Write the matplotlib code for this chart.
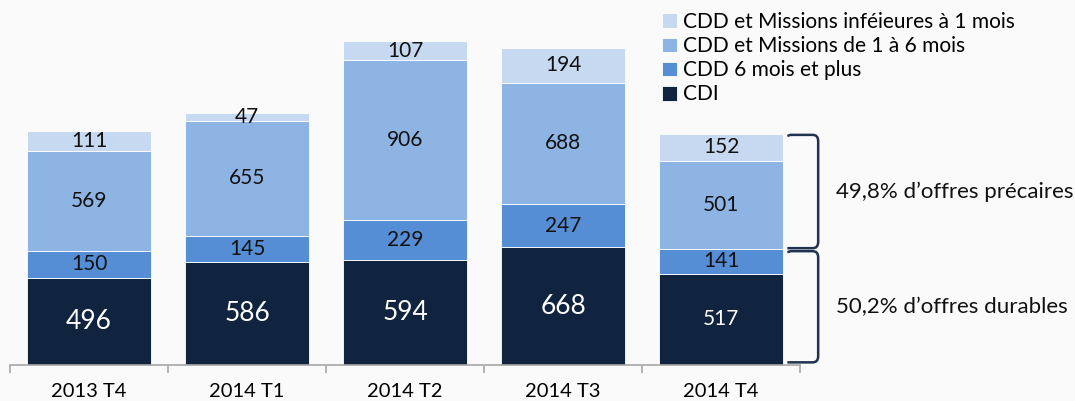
import matplotlib.pyplot as plt
import numpy as np
from matplotlib.path import Path
from matplotlib.patches import PathPatch

plt.rcParams['font.family'] = ['Lato', 'DejaVu Sans']

categories = ['2013 T4', '2014 T1', '2014 T2', '2014 T3', '2014 T4']
cdi = [496, 586, 594, 668, 517]
cdd_6plus = [150, 145, 229, 247, 141]
cdd_1to6 = [569, 655, 906, 688, 501]
cdd_under1 = [111, 47, 107, 194, 152]

series = [
    ('CDI', cdi, '#11243F', 'white'),
    ('CDD 6 mois et plus', cdd_6plus, '#558ED5', '#111111'),
    ('CDD et Missions de 1 à 6 mois', cdd_1to6, '#8EB4E3', '#111111'),
    ('CDD et Missions inféieures à 1 mois', cdd_under1, '#C6D9F1', '#111111'),
]

share_precaire = '49,8%'
share_durable = '50,2%'

bg = '#FAFAFA'
fig = plt.figure(figsize=(10.75, 4.01), dpi=100, facecolor=bg)
ax = fig.add_axes([10 / 1075, 36 / 401, 790 / 1075, 345 / 401])
ax.set_facecolor(bg)

x = np.arange(len(categories))
width = 0.785
bottom = np.zeros(len(categories))
handles = []
for name, vals, color, tcolor in series:
    vals = np.array(vals)
    rects = ax.bar(x, vals, width, bottom=bottom, color=color,
                   edgecolor='white', linewidth=0.6, label=name)
    handles.append(rects)
    for i, v in enumerate(vals):
        size = 15
        if name == 'CDI' and i < 4:
            size = 19
        ax.text(x[i], bottom[i] + v / 2, str(v), ha='center', va='center',
                color=tcolor, fontsize=size)
    bottom += vals

ax.set_xlim(-0.5, len(categories) - 0.5)
ax.set_ylim(0, 1958)
for s in ['top', 'right', 'left']:
    ax.spines[s].set_visible(False)
ax.spines['bottom'].set_color('#A6A6A6')
ax.spines['bottom'].set_linewidth(1.2)
ax.set_yticks([])
ax.set_xticks(x)
ax.set_xticklabels(categories, fontsize=14.5)
ax.tick_params(axis='x', which='major', length=0, pad=13)
ax.set_xticks(np.arange(len(categories) + 1) - 0.5, minor=True)
ax.tick_params(axis='x', which='minor', length=6, color='#A6A6A6', width=1.2)

# braces on the last bar
last = len(categories) - 1
x0 = last + 0.42
x1 = last + 0.615
r = 0.035
ry = 35


def brace(ytop, ybot):
    verts = [(x0, ytop - 6), (x0 + 0.02, ytop), (x1 - r, ytop),
             (x1, ytop), (x1, ytop - ry),
             (x1, ybot + ry),
             (x1, ybot), (x1 - r, ybot),
             (x0, ybot)]
    codes = [Path.MOVETO, Path.LINETO, Path.LINETO,
             Path.CURVE3, Path.CURVE3,
             Path.LINETO,
             Path.CURVE3, Path.CURVE3,
             Path.LINETO]
    ax.add_patch(PathPatch(Path(verts, codes), fill=False, edgecolor='#1F3350',
                           linewidth=1.8, clip_on=False))


top_total = cdi[last] + cdd_6plus[last] + cdd_1to6[last] + cdd_under1[last]
split = cdi[last] + cdd_6plus[last]
brace(top_total - 5, split + 5)
brace(split - 12, 15)

tx = last + 0.725
ax.text(tx, (top_total + split) / 2, share_precaire + ' d\u2019offres précaires',
        fontsize=16, va='center', ha='left', color='#111111', clip_on=False)
ax.text(tx, split / 2, share_durable + ' d\u2019offres durables',
        fontsize=16, va='center', ha='left', color='#111111', clip_on=False)

fig.legend(handles=handles[::-1], loc='upper left', bbox_to_anchor=(662 / 1075, 1 - 12 / 401),
           frameon=False, fontsize=15, handlelength=0.7, handleheight=0.7,
           handletextpad=0.3, labelspacing=0.2, borderaxespad=0, borderpad=0)

fig.savefig('out.png', dpi=100, facecolor=bg)
